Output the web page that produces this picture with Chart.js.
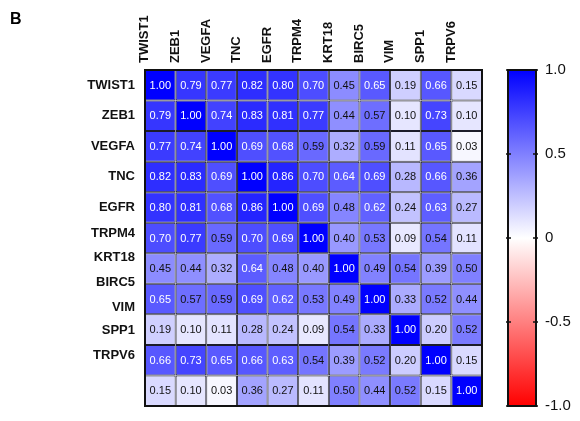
<!DOCTYPE html>
<html><head><meta charset="utf-8">
<script src="https://cdn.jsdelivr.net/npm/chart.js@4/dist/chart.umd.min.js"></script>
<style>html,body{margin:0;padding:0;background:#fff}#wrap{width:580px;height:421px;position:relative}</style>
</head><body><div id="wrap"><canvas id="c" width="580" height="421"></canvas></div>
<script>
const panelLabel = 'B';
const genes = ['TWIST1','ZEB1','VEGFA','TNC','EGFR','TRPM4','KRT18','BIRC5','VIM','SPP1','TRPV6'];
// row-label anchor positions (in row units) as printed in the original figure
const rowLabelPositions = [0.5,1.5,2.5,3.5,4.5,5.34,6.15,6.94,7.76,8.54,9.36];
const rowTWIST1 = [1.00,0.79,0.77,0.82,0.80,0.70,0.45,0.65,0.19,0.66,0.15];
const rowZEB1   = [0.79,1.00,0.74,0.83,0.81,0.77,0.44,0.57,0.10,0.73,0.10];
const rowVEGFA  = [0.77,0.74,1.00,0.69,0.68,0.59,0.32,0.59,0.11,0.65,0.03];
const rowTNC    = [0.82,0.83,0.69,1.00,0.86,0.70,0.64,0.69,0.28,0.66,0.36];
const rowEGFR   = [0.80,0.81,0.68,0.86,1.00,0.69,0.48,0.62,0.24,0.63,0.27];
const rowTRPM4  = [0.70,0.77,0.59,0.70,0.69,1.00,0.40,0.53,0.09,0.54,0.11];
const rowKRT18  = [0.45,0.44,0.32,0.64,0.48,0.40,1.00,0.49,0.54,0.39,0.50];
const rowBIRC5  = [0.65,0.57,0.59,0.69,0.62,0.53,0.49,1.00,0.33,0.52,0.44];
const rowVIM    = [0.19,0.10,0.11,0.28,0.24,0.09,0.54,0.33,1.00,0.20,0.52];
const rowSPP1   = [0.66,0.73,0.65,0.66,0.63,0.54,0.39,0.52,0.20,1.00,0.15];
const rowTRPV6  = [0.15,0.10,0.03,0.36,0.27,0.11,0.50,0.44,0.52,0.15,1.00];
const matrix = [rowTWIST1,rowZEB1,rowVEGFA,rowTNC,rowEGFR,rowTRPM4,rowKRT18,rowBIRC5,rowVIM,rowSPP1,rowTRPV6];
const colorbarTicks = [1, 0.5, 0, -0.5, -1];

function colorFor(v){
  if (v >= 0) { const c = Math.round(255*(1-v)); return `rgb(${c},${c},255)`; }
  const c = Math.round(255*(1+v)); return `rgb(255,${c},${c})`;
}

const datasets = matrix.map((row, r) => ({
  label: genes[r],
  data: row.map(() => [r, r+1]),
  backgroundColor: ctx => colorFor(matrix[ctx.datasetIndex][ctx.dataIndex]),
  borderColor: '#1c1c2a',
  borderWidth: 1,
  borderSkipped: false,
  inflateAmount: 0,
  grouped: false,
  barPercentage: 1,
  categoryPercentage: 1
}));

const overlay = {
  id: 'overlay',
  afterDatasetsDraw(chart){
    const ctx = chart.ctx;
    ctx.save();
    ctx.font = '11px "Liberation Sans", Arial, sans-serif';
    ctx.textAlign = 'center';
    ctx.textBaseline = 'middle';
    chart.data.datasets.forEach((ds, d) => {
      const meta = chart.getDatasetMeta(d);
      meta.data.forEach((el, i) => {
        const v = matrix[d][i];
        ctx.fillStyle = v >= 0.6 ? '#ffffff' : '#111111';
        ctx.fillText(v.toFixed(2), el.x, (el.y + el.base)/2 + 0.5);
      });
    });
    const a = chart.chartArea;
    ctx.strokeStyle = '#111';
    ctx.lineWidth = 2;
    ctx.strokeRect(a.left, a.top, a.right - a.left, a.bottom - a.top);
    ctx.restore();
  },
  afterDraw(chart){
    const ctx = chart.ctx;
    const s = chart.scales.cb;
    const top = s.getPixelForValue(1), bot = s.getPixelForValue(-1);
    const x0 = s.left + 26, w = 28;
    const g = ctx.createLinearGradient(0, top, 0, bot);
    for (let k = 0; k <= 20; k++) {
      const v = 1 - k/10;
      g.addColorStop(k/20, colorFor(v));
    }
    ctx.save();
    ctx.fillStyle = g;
    ctx.fillRect(x0, top, w, bot - top);
    ctx.strokeStyle = '#111';
    ctx.lineWidth = 2;
    ctx.strokeRect(x0, top, w, bot - top);
    ctx.lineWidth = 1.5;
    colorbarTicks.forEach(v => {
      const y = s.getPixelForValue(v);
      ctx.beginPath();
      ctx.moveTo(x0 - 2, y); ctx.lineTo(x0 + 3, y);
      ctx.moveTo(x0 + w - 3, y); ctx.lineTo(x0 + w + 2, y);
      ctx.stroke();
    });
    ctx.fillStyle = '#000';
    ctx.font = 'bold 16px "Liberation Sans", Arial, sans-serif';
    ctx.textAlign = 'left';
    ctx.textBaseline = 'alphabetic';
    ctx.fillText(panelLabel, 10, 24);
    ctx.restore();
  }
};

new Chart(document.getElementById('c'), {
  type: 'bar',
  data: { labels: genes, datasets },
  options: {
    responsive: false,
    devicePixelRatio: 1,
    animation: false,
    events: [],
    layout: { padding: { left: 0, top: 0, right: 0, bottom: 15 } },
    plugins: { legend: { display: false }, tooltip: { enabled: false } },
    scales: {
      x: {
        type: 'category',
        position: 'top',
        offset: true,
        grid: { display: false, drawTicks: false },
        border: { display: false },
        afterFit: s => { s.height = 70; },
        ticks: {
          autoSkip: false, minRotation: 90, maxRotation: 90, padding: 7,
          color: '#111',
          font: { family: '"Liberation Sans", Arial, sans-serif', size: 13, weight: 'bold' }
        }
      },
      y: {
        type: 'linear',
        position: 'left',
        min: 0, max: 11,
        reverse: true,
        grid: { display: true, drawOnChartArea: false, drawTicks: true, tickLength: 10, tickColor: 'rgba(0,0,0,0)' },
        border: { display: false },
        afterFit: s => { s.width = 145; },
        afterBuildTicks: s => { s.ticks = rowLabelPositions.map(v => ({ value: v })); },
        ticks: {
          autoSkip: false, padding: 0, color: '#111',
          callback: (v, i) => genes[i],
          font: { family: '"Liberation Sans", Arial, sans-serif', size: 13, weight: 'bold' }
        }
      },
      cb: {
        type: 'linear',
        position: 'right',
        min: -1, max: 1,
        grid: { display: true, drawOnChartArea: false, drawTicks: true, tickLength: 62, tickColor: 'rgba(0,0,0,0)' },
        border: { display: false },
        afterFit: s => { s.width = 98; },
        afterBuildTicks: s => { s.ticks = colorbarTicks.map(v => ({ value: v })); },
        ticks: {
          autoSkip: false, padding: 1, color: '#111',
          callback: v => v === 0 ? '0' : v.toFixed(1),
          font: { family: '"Liberation Sans", Arial, sans-serif', size: 15 }
        }
      }
    }
  },
  plugins: [overlay]
});
</script>
</body></html>
